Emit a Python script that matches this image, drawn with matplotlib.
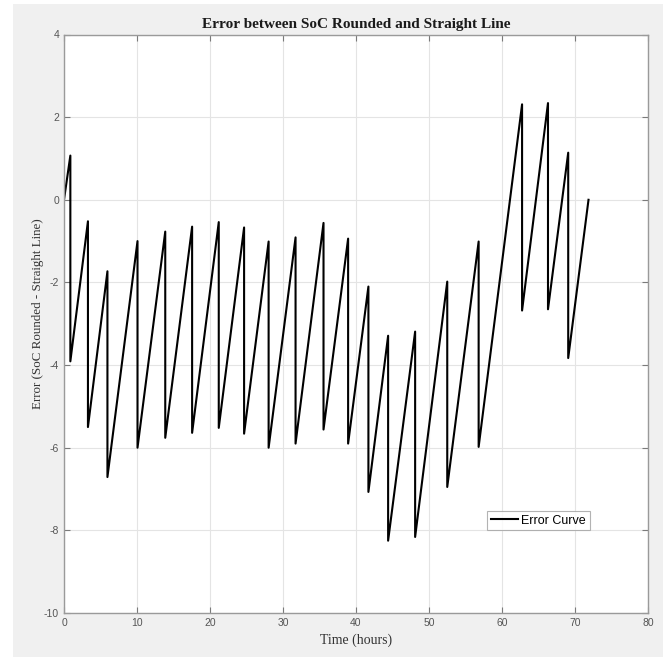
import matplotlib
matplotlib.use('Agg')
import matplotlib.pyplot as plt
from matplotlib.patches import Rectangle

plt.rcParams['axes.unicode_minus'] = False

# sawtooth error curve (hours, error)
time_hours = [0, 0.87, 0.87, 3.28, 3.28, 5.95, 5.95, 10.07, 10.07, 13.87, 13.87,
              17.55, 17.55, 21.2, 21.2, 24.67, 24.67, 28.03, 28.03, 31.72, 31.72,
              35.55, 35.55, 38.92, 38.92, 41.7, 41.7, 44.4, 44.4, 48.1, 48.1,
              52.5, 52.5, 56.8, 56.8, 62.75, 62.75, 66.3, 66.3, 69.07, 69.07, 71.85]
error_vals = [0, 1.07, -3.91, -0.52, -5.5, -1.73, -6.71, -1.0, -6.0, -0.77, -5.76,
              -0.65, -5.64, -0.54, -5.52, -0.67, -5.66, -1.01, -6.0, -0.91, -5.9,
              -0.56, -5.56, -0.94, -5.9, -2.1, -7.07, -3.29, -8.25, -3.19, -8.16,
              -1.98, -6.95, -1.01, -5.98, 2.31, -2.68, 2.34, -2.65, 1.14, -3.83, 0.0]

x_ticks = [0, 10, 20, 30, 40, 50, 60, 70, 80]
y_ticks = [-10, -8, -6, -4, -2, 0, 2, 4]

fig = plt.figure(figsize=(6.63, 6.57), dpi=100, facecolor='white')
# MATLAB style grey figure panel
fig.patches.append(Rectangle((13 / 663, 0), 1 - 13 / 663, 1 - 4 / 657,
                             transform=fig.transFigure, facecolor='#f0f0f0',
                             edgecolor='none', zorder=-10))

ax = fig.add_axes([64 / 663, 44 / 657, 584 / 663, 578.5 / 657])
ax.set_facecolor('white')
ax.plot(time_hours, error_vals, color='black', linewidth=1.5, label='Error Curve')

ax.set_xlim(0, 80)
ax.set_ylim(-10, 4)
ax.set_xticks(x_ticks)
ax.set_yticks(y_ticks)
ax.grid(True, color='#e4e4e4', linewidth=0.8)
ax.set_axisbelow(True)

ax.tick_params(direction='in', length=4, width=0.8, color='#7a7a7a',
               labelsize=7.5, labelcolor='#555555', top=True, right=True,
               labelfontfamily='Liberation Sans')
for s in ax.spines.values():
    s.set_color('#9a9a9a')
    s.set_linewidth(1.0)

ax.set_title('Error between SoC Rounded and Straight Line', family='Liberation Serif',
             fontsize=11, fontweight='bold', color='#1a1a1a', pad=4.5)
ax.set_xlabel('Time (hours)', family='Liberation Serif', fontsize=10, color='#333333',
              labelpad=4)
ax.set_ylabel('Error (SoC Rounded - Straight Line)', family='Liberation Serif',
              fontsize=9.4, color='#333333')
ax.yaxis.set_label_coords(-0.035, 0.517)

leg = ax.legend(loc='lower left', bbox_to_anchor=(0.724, 0.143), fancybox=False,
                prop={'family': 'Liberation Sans', 'size': 9}, handlelength=2.2,
                borderpad=0.3, handletextpad=0.25, borderaxespad=0)
leg.get_frame().set_edgecolor('#a0a0a0')
leg.get_frame().set_linewidth(0.8)

fig.savefig('out.png', dpi=100, facecolor=fig.get_facecolor())
